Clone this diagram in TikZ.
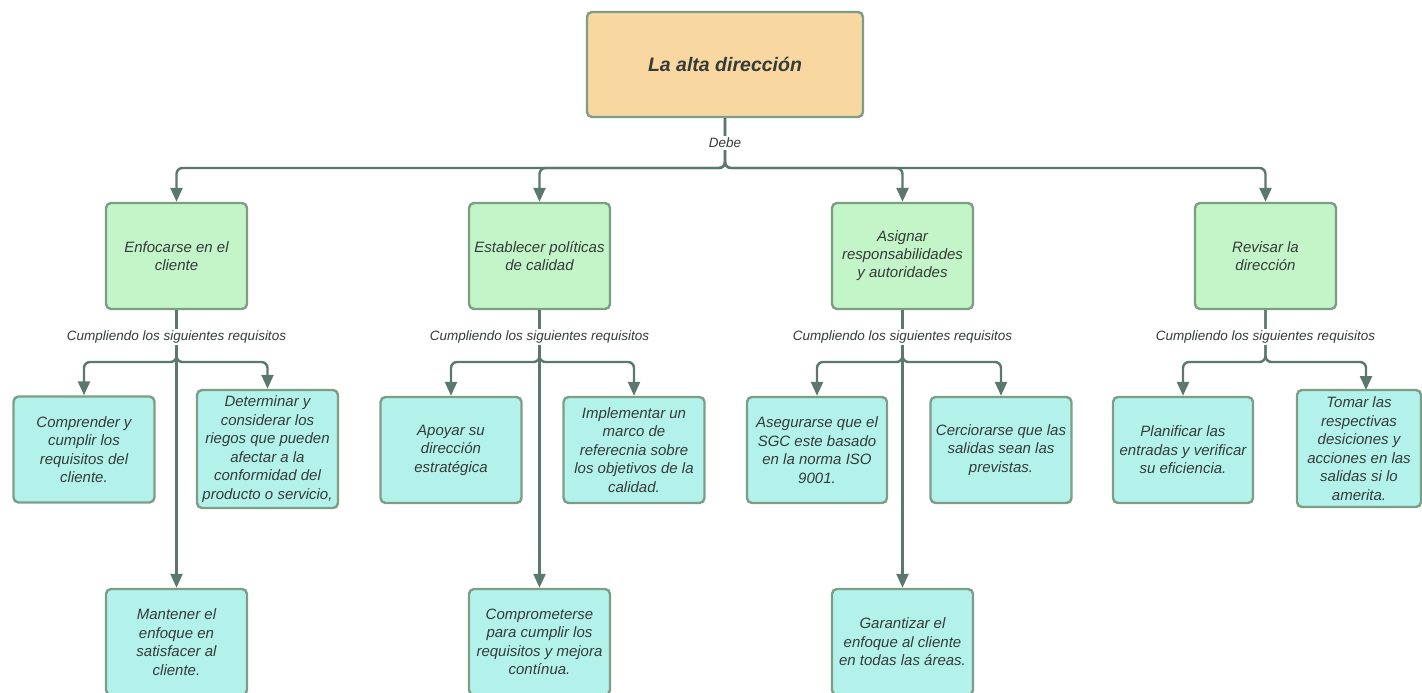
\documentclass[tikz,border=0pt]{standalone}
\usepackage{fontspec}
\setmainfont{Liberation Sans}
\usetikzlibrary{arrows.meta}

\definecolor{topfill}{HTML}{F9D7A0}
\definecolor{greenfill}{HTML}{C3F5C8}
\definecolor{cyanfill}{HTML}{B3F2EB}
\definecolor{boxline}{HTML}{7C9E86}
\definecolor{linecol}{HTML}{5A786E}
\definecolor{txt}{HTML}{343B39}

\tikzset{
  basebox/.style={draw=boxline, line width=2.4pt, rounded corners=5pt,
    align=center, inner sep=2pt, text=txt},
  topbox/.style={basebox, fill=topfill, minimum width=276pt, minimum height=105pt,
    font=\fontsize{19.5}{23}\selectfont\bfseries\itshape},
  mainbox/.style={basebox, fill=greenfill, minimum width=141pt, minimum height=106pt,
    font=\fontsize{15}{18}\selectfont\itshape},
  subbox/.style={basebox, fill=cyanfill, minimum width=141pt, minimum height=106pt,
    font=\fontsize{15}{18.5}\selectfont\itshape},
  lbl/.style={fill=white, inner sep=2pt, text=txt,
    font=\fontsize{13.5}{15}\selectfont\itshape},
  conn/.style={draw=linecol, line width=2.4pt, rounded corners=6pt},
  arr/.style={conn, -{Triangle[width=12pt,length=14pt]}},
}

\begin{document}
\begin{tikzpicture}[x=1pt,y=-1pt]
\useasboundingbox (0,0) rectangle (1422,693);
\clip (0,0) rectangle (1422,693);

% top node
\node[topbox] (top) at (725,64.5) {La alta dirección};

% second level
\node[mainbox] (m1) at (176.5,256) {Enfocarse en el\\cliente};
\node[mainbox] (m2) at (539.5,256) {Establecer políticas\\de calidad};
\node[mainbox] (m3) at (902.5,256) {Asignar\\responsabilidades\\y autoridades};
\node[mainbox] (m4) at (1265.5,256) {Revisar la\\dirección};

% requirements
\node[subbox] (c1a) at (84,449.5) {Comprender y\\cumplir los\\requisitos del\\cliente.};
\node[subbox, minimum height=118pt] (c1b) at (267.5,449) {Determinar y\\considerar los\\riegos que pueden\\afectar a la\\conformidad del\\producto o servicio,};
\node[subbox] (c2a) at (451,450) {Apoyar su\\dirección\\estratégica};
\node[subbox] (c2b) at (634,450) {Implementar un\\marco de\\referecnia sobre\\los objetivos de la\\calidad.};
\node[subbox, minimum width=140pt] (c3a) at (817,450) {Asegurarse que el\\SGC este basado\\en la norma ISO\\9001.};
\node[subbox] (c3b) at (1001,450) {Cerciorarse que las\\salidas sean las\\previstas.};
\node[subbox, minimum width=140pt] (c4a) at (1183,450) {Planificar las\\entradas y verificar\\su eficiencia.};
\node[subbox, minimum width=124pt, minimum height=117pt] (c4b) at (1359,448.5) {Tomar las\\respectivas\\desiciones y\\acciones en las\\salidas si lo\\amerita.};

\node[subbox] (b1) at (176.5,642) {Mantener el\\enfoque en\\satisfacer al\\cliente.};
\node[subbox] (b2) at (539.5,642) {Comprometerse\\para cumplir los\\requisitos y mejora\\contínua.};
\node[subbox] (b3) at (902.5,642) {Garantizar el\\enfoque al cliente\\en todas las áreas.};

% branching points
\coordinate (bus) at (725,168);
\coordinate (s1) at (176.5,362);
\coordinate (s2) at (539.5,362);
\coordinate (s3) at (902.5,362);
\coordinate (s4) at (1265.5,362);
\coordinate (t4) at (1366,390);

% connectors
\foreach \m in {m1,m2,m3,m4}
  \draw[arr] (top.south) -- (bus) -| (\m.north);

\draw[arr] (m1.south) -- (s1) -| (c1a.north);
\draw[arr] (m1.south) -- (s1) -| (c1b.north);
\draw[arr] (m1.south) -- (b1.north);

\draw[arr] (m2.south) -- (s2) -| (c2a.north);
\draw[arr] (m2.south) -- (s2) -| (c2b.north);
\draw[arr] (m2.south) -- (b2.north);

\draw[arr] (m3.south) -- (s3) -| (c3a.north);
\draw[arr] (m3.south) -- (s3) -| (c3b.north);
\draw[arr] (m3.south) -- (b3.north);

\draw[arr] (m4.south) -- (s4) -| (c4a.north);
\draw[arr] (m4.south) -- (s4) -| (t4);

% connector labels
\node[lbl] (debe) at (725,143) {Debe};
\node[lbl] (l1) at (176.5,337) {Cumpliendo los siguientes requisitos};
\node[lbl] (l2) at (539.5,337) {Cumpliendo los siguientes requisitos};
\node[lbl] (l3) at (902.5,337) {Cumpliendo los siguientes requisitos};
\node[lbl] (l4) at (1265.5,337) {Cumpliendo los siguientes requisitos};
\end{tikzpicture}
\end{document}
